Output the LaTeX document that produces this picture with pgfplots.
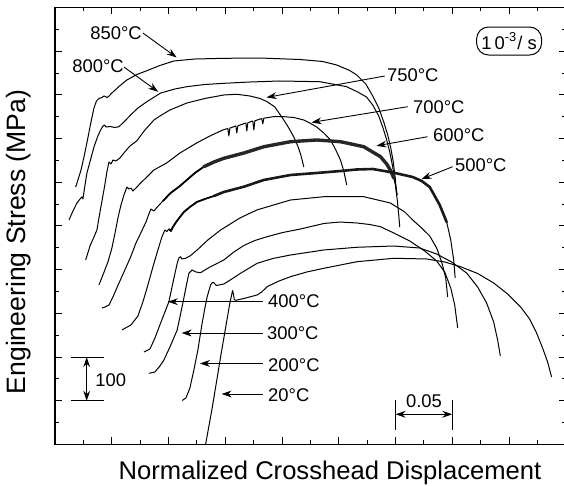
\documentclass[border=0pt]{standalone}
\usepackage{fontspec}
\setmainfont{Liberation Sans}
\usepackage{pgfplots}
\usepackage{pgfplotstable}
\pgfplotsset{compat=1.18}
\usetikzlibrary{arrows.meta}

\pgfplotstableread{
x y
0.0183 589.2
0.0203 605.3
0.0230 628.1
0.0256 657.9
0.0285 694.5
0.0318 738.0
0.0344 770.0
0.0366 786.0
0.0388 791.7
0.0414 794.0
0.0432 797.5
0.0445 796.3
0.0458 794.0
0.0472 796.3
0.0502 804.3
0.0564 819.2
0.0634 834.1
0.0722 846.7
0.0810 855.4
0.0925 867.3
0.1048 877.6
0.1233 882.1
0.1488 883.7
0.1805 884.4
0.2157 881.0
0.2359 876.4
0.2482 868.4
0.2597 855.8
0.2658 845.5
0.2738 824.9
0.2799 797.5
0.2852 770.0
0.2896 738.0
0.2931 708.2
0.2958 678.5
0.2980 646.4
0.2997 609.8
0.3010 570.9
}\tEightFifty

\pgfplotstableread{
x y
0.0124 513.7
0.0159 534.3
0.0194 552.6
0.0221 561.8
0.0238 566.4
0.0247 561.8
0.0265 593.8
0.0282 621.3
0.0313 651.0
0.0344 680.8
0.0375 703.7
0.0403 719.7
0.0423 728.8
0.0438 731.1
0.0450 726.5
0.0485 727.7
0.0529 725.4
0.0564 727.2
0.0608 738.0
0.0667 754.0
0.0731 770.0
0.0810 784.4
0.0931 804.3
0.1057 813.5
0.1162 818.8
0.1321 823.8
0.1488 826.5
0.1717 829.5
0.1981 831.8
0.2333 830.2
0.2568 818.8
0.2667 806.6
0.2744 795.2
0.2799 776.9
0.2852 751.7
0.2887 726.5
0.2922 696.8
0.2949 669.3
0.2975 635.0
0.2997 598.4
0.3015 559.5
0.3028 525.2
0.3037 497.7
}\tEightHundred

\pgfplotstableread{
x y
0.0271 422.2
0.0309 454.2
0.0344 474.8
0.0370 490.8
0.0397 532.0
0.0432 582.4
0.0458 623.6
0.0476 646.4
0.0494 641.9
0.0511 651.0
0.0538 648.7
0.0573 655.6
0.0608 667.0
0.0661 683.1
0.0720 694.5
0.0793 719.7
0.0872 742.5
0.0925 751.7
0.1013 765.4
0.1162 781.4
0.1321 791.8
0.1488 799.8
0.1602 801.4
0.1717 797.5
0.1805 791.8
0.1866 784.9
0.1937 772.3
0.2016 742.5
0.2060 724.2
0.2104 703.7
0.2139 683.1
0.2166 662.5
0.2192 635.0
}\tSevenFifty

\pgfplotstableread{
x y
0.0388 365.0
0.0423 387.9
0.0467 417.6
0.0502 449.6
0.0535 490.8
0.0555 518.3
0.0582 548.0
0.0608 570.9
0.0634 589.2
0.0652 584.7
0.0670 586.9
0.0687 580.1
0.0714 586.9
0.0755 598.4
0.0810 612.1
0.0872 628.1
0.0984 644.2
0.1101 667.0
0.1248 689.9
0.1365 705.9
0.1479 719.7
0.1523 723.1
0.1532 705.9
0.1541 724.2
0.1594 728.8
0.1602 712.8
0.1611 729.3
0.1682 735.7
0.1690 717.4
0.1699 736.2
0.1743 740.3
0.1752 719.7
0.1761 740.7
0.1822 746.0
0.1831 733.4
0.1840 746.7
0.1937 750.6
0.2016 750.1
0.2104 748.3
0.2192 742.5
0.2245 735.7
0.2306 726.5
0.2368 712.8
0.2427 696.8
0.2474 673.9
0.2515 651.0
0.2544 625.8
0.2570 593.8
}\tSevenHundred

\pgfplotstableread{
x y
0.0414 312.3
0.0441 314.6
0.0476 319.2
0.0511 337.5
0.0549 360.4
0.0608 394.7
0.0667 429.1
0.0714 461.1
0.0769 490.8
0.0802 509.1
0.0828 527.5
0.0846 538.9
0.0872 534.3
0.0898 542.3
0.0951 557.2
0.1019 575.5
0.1101 591.5
0.1162 605.3
0.1233 621.3
0.1312 635.7
0.1400 646.4
0.1488 654.9
0.1664 667.0
0.1840 681.4
0.2075 692.9
0.2306 696.8
0.2515 692.9
0.2720 681.4
0.2867 658.6
0.2922 641.9
0.2958 625.8
0.2984 609.8
0.3002 591.5
0.3015 570.9
}\tSixHundred

\pgfplotstableread{
x y
0.0590 262.0
0.0670 273.5
0.0731 294.0
0.0775 326.1
0.0819 365.0
0.0863 406.2
0.0907 445.1
0.0942 474.8
0.0969 490.8
0.0986 487.4
0.1004 493.1
0.1022 488.6
0.1039 497.7
0.1074 511.4
0.1136 532.0
0.1189 543.5
0.1250 554.9
0.1321 561.8
0.1400 568.6
0.1488 577.8
0.1664 589.9
0.1840 605.3
0.2075 616.7
0.2306 621.3
0.2515 625.8
0.2658 629.3
0.2799 630.4
0.2975 622.4
0.3151 612.1
0.3230 603.0
0.3301 589.2
0.3389 548.0
0.3450 509.1
0.3486 468.0
0.3512 422.2
0.3525 381.0
}\tFiveHundred

\pgfplotstableread{
x y
0.0784 211.7
0.0837 218.5
0.0881 243.7
0.0931 278.0
0.0969 303.2
0.1004 326.8
0.1039 369.6
0.1077 414.6
0.1092 426.8
0.1107 429.7
0.1118 424.5
0.1151 426.1
0.1189 431.3
0.1253 445.1
0.1347 468.0
0.1459 490.8
0.1629 518.3
0.1778 536.6
0.2075 559.5
0.2368 567.0
0.2720 567.0
0.2955 552.6
0.3081 532.0
0.3151 513.7
0.3230 495.4
0.3301 477.1
0.3362 449.6
0.3406 417.6
0.3442 381.0
0.3459 337.5
}\tFourHundred

\pgfplotstableread{
x y
0.0828 162.9
0.0881 165.9
0.0925 179.6
0.0960 193.4
0.1013 223.1
0.1077 262.0
0.1127 323.8
0.1162 369.6
0.1180 391.8
0.1209 399.3
0.1242 394.7
0.1283 393.1
0.1321 399.3
0.1371 406.9
0.1488 422.2
0.1576 440.5
0.1664 455.4
0.1761 466.8
0.1869 475.5
0.2007 485.1
0.2163 493.1
0.2368 505.7
0.2509 509.1
0.2658 506.9
0.2773 503.4
0.2867 498.4
0.2984 484.0
0.3125 465.7
0.3257 442.8
0.3362 419.9
0.3433 394.7
0.3486 358.1
0.3521 319.2
0.3547 266.6
}\tThreeHundred

\pgfplotstableread{
x y
0.1121 100.7
0.1154 106.4
0.1189 129.3
0.1224 170.5
0.1259 216.2
0.1294 273.5
0.1321 312.4
0.1341 338.2
0.1371 365.0
0.1387 370.7
0.1400 370.2
0.1422 363.8
0.1444 365.0
0.1488 367.3
0.1558 378.7
0.1635 391.8
0.1781 414.6
0.1919 425.6
0.2075 433.6
0.2368 445.1
0.2661 451.3
0.2984 454.2
0.3213 449.6
0.3362 435.9
0.3494 417.6
0.3626 392.4
0.3723 360.4
0.3802 323.8
0.3864 280.3
0.3899 239.1
0.3923 202.5
}\tTwoHundred

\pgfplotstableread{
x y
0.1327 0.0
0.1382 78.9
0.1426 147.6
0.1462 204.8
0.1512 280.3
0.1541 323.8
0.1565 352.4
0.1572 344.4
0.1580 331.8
0.1594 330.0
0.1664 334.1
0.1781 342.1
0.1822 349.0
0.1869 361.1
0.1963 373.0
0.2075 384.0
0.2218 394.7
0.2368 403.2
0.2661 418.3
0.2984 426.1
0.3274 424.5
0.3433 417.6
0.3571 406.9
0.3723 391.3
0.3864 369.6
0.3987 344.4
0.4099 315.3
0.4181 287.2
0.4242 255.1
0.4295 220.8
0.4339 188.8
0.4374 154.5
}\tTwenty

\begin{document}
\begin{tikzpicture}
\useasboundingbox (-27.45pt,-20.75pt) rectangle (254.55pt,222.25pt);
\begin{axis}[
  at={(0pt,0pt)}, anchor=south west,
  scale only axis, width=255.5pt, height=218.5pt,
  xmin=0, xmax=0.45, ymin=0, ymax=1000,
  xtick={0,0.05,0.1,0.15,0.2,0.25,0.3,0.35,0.4,0.45},
  minor xtick={0.025,0.075,0.125,0.175,0.225,0.275,0.325,0.375,0.425},
  ytick={100,200,300,400,500,600,700,800,900},
  minor ytick={50,150,250,350,450,550,650,750,850,950},
  xticklabels={}, yticklabels={},
  major tick length=3.5pt, minor tick length=2pt,
  tick style={black, line width=0.5pt},
  axis line style={black, line width=0.8pt},
  xlabel={Normalized Crosshead Displacement},
  ylabel={Engineering Stress (MPa)},
  xlabel style={at={(axis description cs:0.5384,-0.0812)}, anchor=base, font=\fontsize{12.8}{15}\selectfont},
  ylabel style={at={(axis description cs:-0.0585,0.4634)}, anchor=base, font=\fontsize{13.3}{15}\selectfont},
  cycle list={{black,solid}},
  every axis plot/.append style={line width=0.5pt, no markers, line join=round},
]
\addplot table {\tEightFifty};
\addplot table {\tEightHundred};
\addplot table {\tSevenFifty};
\addplot table {\tSevenHundred};
\addplot table {\tSixHundred};
\addplot[black, line width=0.9pt, restrict x to domain=0.095:0.14] table {\tSixHundred};
\addplot[black!85, line width=1.7pt, line cap=round, restrict x to domain=0.13:0.2985] table {\tSixHundred};
\addplot table {\tFiveHundred};
\addplot[black, line width=0.9pt, restrict x to domain=0.10:0.14] table {\tFiveHundred};
\addplot[black!90, line width=1.3pt, line cap=round, restrict x to domain=0.135:0.346] table {\tFiveHundred};
\addplot table {\tFourHundred};
\addplot table {\tThreeHundred};
\addplot table {\tTwoHundred};
\addplot table {\tTwenty};

% labels and arrows
\tikzset{lbl/.style={anchor=west, inner sep=0pt, font=\fontsize{9.2}{11}\selectfont},
         arr/.style={-{Stealth[length=5pt,width=3.4pt]}, line width=0.45pt}}
\node[lbl] at (axis cs:0.0309,941.6) {850°C};
\draw[arr] (axis cs:0.0775,941.6) -- (axis cs:0.1072,885.7);
\node[lbl] at (axis cs:0.0150,865.0) {800°C};
\draw[arr] (axis cs:0.0608,863.8) -- (axis cs:0.0910,807.0);
\node[lbl] at (axis cs:0.2922,845.5) {750°C};
\draw[arr] (axis cs:0.2905,843.2) -- (axis cs:0.1864,794.2);
\node[lbl] at (axis cs:0.3151,773.0) {700°C};
\draw[arr] (axis cs:0.3107,773.0) -- (axis cs:0.2260,737.0);
\node[lbl] at (axis cs:0.3327,708.2) {600°C};
\draw[arr] (axis cs:0.3283,704.3) -- (axis cs:0.2832,683.5);
\node[lbl] at (axis cs:0.3521,638.4) {500°C};
\draw[arr] (axis cs:0.3503,635.7) -- (axis cs:0.3228,607.3);
\node[lbl] at (axis cs:0.1875,327.2) {400°C};
\draw[arr] (axis cs:0.1831,326.8) -- (axis cs:0.0995,326.8);
\node[lbl] at (axis cs:0.1866,254.0) {300°C};
\draw[arr] (axis cs:0.1831,255.1) -- (axis cs:0.1116,255.1);
\node[lbl] at (axis cs:0.1875,181.9) {200°C};
\draw[arr] (axis cs:0.1831,185.4) -- (axis cs:0.1277,185.4);
\node[lbl] at (axis cs:0.1875,113.3) {20°C};
\draw[arr] (axis cs:0.1831,115.6) -- (axis cs:0.1468,115.6);

% strain rate box
\node[draw, rounded corners=6pt, minimum width=32.5pt, minimum height=14pt, inner sep=1pt, line width=0.5pt,
      font=\fontsize{9.2}{11}\selectfont] at (axis cs:0.4000,923.3) {1\,0\textsuperscript{-3}/ s};

% 100 MPa scale bar
\draw[line width=0.5pt] (axis cs:0.0139,100) -- (axis cs:0.0432,100);
\draw[line width=0.5pt] (axis cs:0.0139,200) -- (axis cs:0.0432,200);
\draw[{Stealth[length=5pt,width=3.4pt]}-{Stealth[length=5pt,width=3.4pt]}, line width=0.6pt] (axis cs:0.0280,100) -- (axis cs:0.0280,200);
\node[lbl] at (axis cs:0.0353,147.6) {100};

% 0.05 scale bar
\draw[line width=0.5pt] (axis cs:0.30,33.2) -- (axis cs:0.30,101.8);
\draw[line width=0.5pt] (axis cs:0.35,33.2) -- (axis cs:0.35,101.8);
\draw[{Stealth[length=5pt,width=3.4pt]}-{Stealth[length=5pt,width=3.4pt]}, line width=0.6pt] (axis cs:0.30,69.1) -- (axis cs:0.35,69.1);
\node[anchor=south, inner sep=0pt, font=\fontsize{9.2}{11}\selectfont] at (axis cs:0.325,83) {0.05};
\end{axis}
\end{tikzpicture}
\end{document}
